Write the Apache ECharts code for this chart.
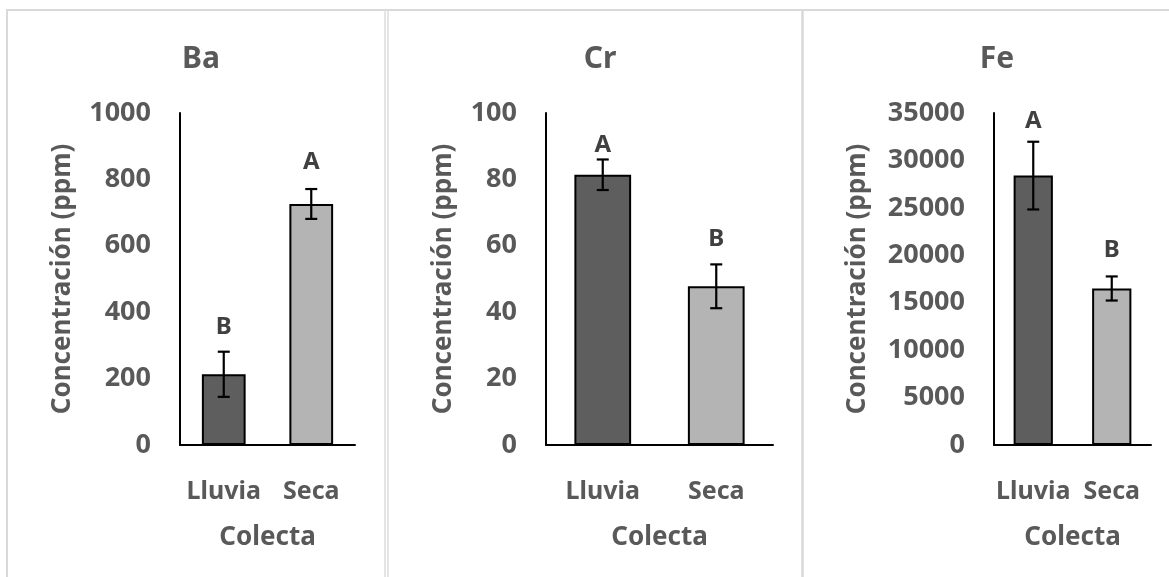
<!DOCTYPE html>
<html>
<head>
<meta charset="utf-8">
<script src="https://cdn.jsdelivr.net/npm/echarts@6/dist/echarts.min.js"></script>
<style>
html,body{margin:0;padding:0;background:#fff;}
#chart{width:1169px;height:577px;}
</style>
</head>
<body>
<div id="chart"></div>
<script>
// ---------------- data ----------------
var categories = ['Lluvia', 'Seca'];
var panelTitles = ['Ba', 'Cr', 'Fe'];
var baValues = [213, 726];
var baErrors = [68, 45];
var baLetters = ['B', 'A'];
var crValues = [81.4, 47.8];
var crErrors = [4.6, 6.6];
var crLetters = ['A', 'B'];
var feValues = [28400, 16500];
var feErrors = [3570, 1270];
var feLetters = ['A', 'B'];
var yMax = [1000, 100, 35000];
var yInterval = [200, 20, 5000];
var yAxisTitle = 'Concentración (ppm)';
var xAxisTitle = 'Colecta';

// ---------------- style ----------------
var FONT = 'Noto Sans';
var TXT = '#595959';
var barColors = ['#5e5e5e', '#b4b4b4'];
var grids = [
  {left: 180, width: 175, top: 113, height: 332},
  {left: 546, width: 227, top: 113, height: 332},
  {left: 994, width: 157, top: 113, height: 332}
];
var titleX = [196, 595, 992];
var yNameGap = [104, 89, 123];
var letterGap = [[25, 27], [14, 25], [21, 26]];

var values = [baValues, crValues, feValues];
var errors = [baErrors, crErrors, feErrors];
var letters = [baLetters, crLetters, feLetters];

function errRender(p) {
  return function (params, api) {
    var i = api.value(0), v = api.value(1), e = api.value(2);
    var top = api.coord([i, v + e]);
    var bot = api.coord([i, v - e]);
    var x = top[0], cap = 6;
    var st = {stroke: '#000', lineWidth: 2.2};
    return {
      type: 'group',
      children: [
        {type: 'line', shape: {x1: x, y1: top[1], x2: x, y2: bot[1]}, style: st},
        {type: 'line', shape: {x1: x - cap, y1: top[1], x2: x + cap, y2: top[1]}, style: st},
        {type: 'line', shape: {x1: x - cap, y1: bot[1], x2: x + cap, y2: bot[1]}, style: st},
        {type: 'text', x: x, y: top[1] - letterGap[p][params.dataIndex],
          style: {text: letters[p][params.dataIndex], fill: '#404040',
            font: 'bold 24px "' + FONT + '"', align: 'center', verticalAlign: 'middle'}}
      ]
    };
  };
}

var option = {
  backgroundColor: '#fff',
  animation: false,
  title: panelTitles.map(function (t, p) {
    return {text: t, left: titleX[p], top: 39, textAlign: 'center',
      textStyle: {fontFamily: FONT, fontWeight: 'bold', fontSize: 30, color: TXT}};
  }),
  grid: grids,
  xAxis: grids.map(function (g, p) {
    return {
      type: 'category', gridIndex: p, data: categories,
      axisLine: {lineStyle: {color: '#000', width: 2}},
      axisTick: {show: false},
      axisLabel: {margin: 34, color: TXT, fontFamily: FONT, fontWeight: 'bold', fontSize: 25, interval: 0},
      name: xAxisTitle, nameLocation: 'middle', nameGap: 80,
      nameTextStyle: {color: TXT, fontFamily: FONT, fontWeight: 'bold', fontSize: 26}
    };
  }),
  yAxis: grids.map(function (g, p) {
    return {
      type: 'value', gridIndex: p, min: 0, max: yMax[p], interval: yInterval[p],
      axisLine: {show: true, lineStyle: {color: '#000', width: 2}},
      axisTick: {show: false},
      splitLine: {show: false},
      axisLabel: {margin: 29, color: TXT, fontFamily: FONT, fontWeight: 'bold', fontSize: 27,
        formatter: function (v) { return String(v); }},
      name: yAxisTitle, nameLocation: 'middle', nameGap: yNameGap[p], nameRotate: 90,
      nameTextStyle: {color: TXT, fontFamily: FONT, fontWeight: 'bold', fontSize: 26}
    };
  }),
  series: [],
  graphic: [
    {type: 'line', shape: {x1: 6, y1: 10, x2: 1169, y2: 10}, style: {stroke: '#d9d9d9', lineWidth: 2}},
    {type: 'line', shape: {x1: 7, y1: 9, x2: 7, y2: 577}, style: {stroke: '#d9d9d9', lineWidth: 2}},
    {type: 'line', shape: {x1: 385, y1: 9, x2: 385, y2: 577}, style: {stroke: '#dcdcdc', lineWidth: 1.5}},
    {type: 'line', shape: {x1: 388, y1: 9, x2: 388, y2: 577}, style: {stroke: '#dcdcdc', lineWidth: 1.5}},
    {type: 'line', shape: {x1: 802.5, y1: 9, x2: 802.5, y2: 577}, style: {stroke: '#d9d9d9', lineWidth: 2.5}}
  ]
};

for (var p = 0; p < 3; p++) {
  option.series.push({
    type: 'bar', xAxisIndex: p, yAxisIndex: p, barWidth: '50%',
    data: values[p].map(function (v, i) {
      return {value: v, itemStyle: {color: barColors[i], borderColor: '#000', borderWidth: 2}};
    })
  });
  option.series.push({
    type: 'custom', xAxisIndex: p, yAxisIndex: p, z: 5,
    renderItem: errRender(p),
    encode: {x: 0, y: 1},
    data: values[p].map(function (v, i) { return [i, v, errors[p][i]]; })
  });
}

var chart = echarts.init(document.getElementById('chart'), null, {renderer: 'canvas'});
chart.setOption(option);
</script>
</body>
</html>
